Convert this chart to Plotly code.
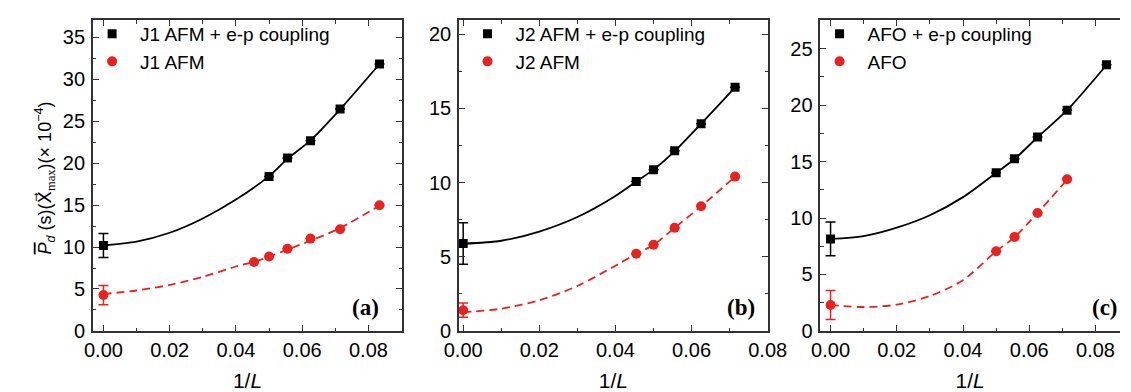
import plotly.graph_objects as go

# ---------------- data ----------------
# x values: 1/L  (L = 22, 20, 18, 16, 14, 12) plus extrapolated 1/L = 0
xa_black = [0.0, 1/20, 1/18, 1/16, 1/14, 1/12]
ya_black = [10.19, 18.41, 20.6, 22.65, 26.43, 31.8]
ea_black = [1.43, None, None, None, None, None]
xa_red = [0.0, 1/22, 1/20, 1/18, 1/16, 1/14, 1/12]
ya_red = [4.28, 8.22, 8.88, 9.8, 11.0, 12.12, 14.97]
ea_red = [1.15, None, None, None, None, None, None]

xb_black = [0.0, 1/22, 1/20, 1/18, 1/16, 1/14]
yb_black = [5.9, 10.07, 10.87, 12.14, 13.97, 16.42]
eb_black = [1.4, None, None, None, None, None]
xb_red = [0.0, 1/22, 1/20, 1/18, 1/16, 1/14]
yb_red = [1.4, 5.2, 5.81, 6.95, 8.4, 10.4]
eb_red = [0.48, None, None, None, None, None]

xc_black = [0.0, 1/20, 1/18, 1/16, 1/14, 1/12]
yc_black = [8.15, 14.0, 15.25, 17.17, 19.55, 23.57]
ec_black = [1.5, None, None, None, None, None]
xc_red = [0.0, 1/20, 1/18, 1/16, 1/14]
yc_red = [2.3, 7.06, 8.33, 10.45, 13.44]
ec_red = [1.29, None, None, None, None]

# fit curves
fa_black_x = [0.0, 0.01, 0.02, 0.03, 0.04, 1/20, 1/18, 1/16, 1/14, 1/12]
fa_black_y = [10.2, 10.65, 11.7, 13.4, 15.65, 18.45, 20.5, 22.7, 26.4, 31.8]
fa_red_x = [0.0, 0.01, 0.02, 0.03, 0.04, 1/22, 1/20, 1/18, 1/16, 1/14, 1/12]
fa_red_y = [4.4, 4.82, 5.48, 6.44, 7.68, 8.22, 8.85, 9.7, 10.75, 12.25, 14.95]

fb_black_x = [0.0, 0.01, 0.02, 0.03, 0.04, 1/22, 1/20, 1/18, 1/16, 1/14]
fb_black_y = [5.88, 6.08, 6.7, 7.68, 9.1, 10.07, 10.87, 12.12, 13.97, 16.42]
fb_red_x = [0.0, 0.01, 0.02, 0.03, 0.04, 1/22, 1/20, 1/18, 1/16, 1/14]
fb_red_y = [1.26, 1.5, 2.07, 3.03, 4.4, 5.2, 5.8, 6.95, 8.4, 10.4]

fc_black_x = [0.0, 0.01, 0.02, 0.03, 0.04, 1/20, 1/18, 1/16, 1/14, 1/12]
fc_black_y = [8.15, 8.4, 9.15, 10.25, 11.85, 14.0, 15.22, 17.15, 19.55, 23.55]
fc_red_x = [0.0, 0.01, 0.02, 0.03, 0.04, 1/20, 1/18, 1/16, 1/14]
fc_red_y = [2.3, 2.12, 2.33, 3.1, 4.5, 7.06, 8.3, 10.45, 13.4]

labels_black = ["J1 AFM + e-p coupling", "J2 AFM + e-p coupling", "AFO + e-p coupling"]
labels_red = ["J1 AFM", "J2 AFM", "AFO"]
panel_labels = ["(a)", "(b)", "(c)"]
x_ticks = [0.0, 0.02, 0.04, 0.06, 0.08]
x_tick_text = ["0.00", "0.02", "0.04", "0.06", "0.08"]

# ---------------- styling ----------------
BLACK = "#000000"
RED = "#e8231f"
AXC = "#333333"
FONT = "Liberation Sans, Arial, sans-serif"

panels = [
    dict(bx=xa_black, by=ya_black, be=ea_black, rx=xa_red, ry=ya_red, re=ea_red,
         fbx=fa_black_x, fby=fa_black_y, frx=fa_red_x, fry=fa_red_y,
         xr=[-0.0032, 0.0902], yr=[0, 37.0], dom=[72/1131, 391/1131], mirror_y=True,
         leg_x=63, lab_x=353),
    dict(bx=xb_black, by=yb_black, be=eb_black, rx=xb_red, ry=yb_red, re=eb_red,
         fbx=fb_black_x, fby=fb_black_y, frx=fb_red_x, fry=fb_red_y,
         xr=[-0.0011, 0.08005], yr=[0, 20.93], dom=[449.5/1131, 768/1131], mirror_y=True,
         leg_x=450, lab_x=740),
    dict(bx=xc_black, by=yc_black, be=ec_black, rx=xc_red, ry=yc_red, re=ec_red,
         fbx=fc_black_x, fby=fc_black_y, frx=fc_red_x, fry=fc_red_y,
         xr=[-0.0031, 0.0874], yr=[0, 27.5], dom=[822/1131, 1.0], mirror_y=False,
         leg_x=813, lab_x=1116),
]

ydom = [1 - 332.3/392, 1 - 12.7/392]

fig = go.Figure()
annotations = []
layout = dict(
    width=1131, height=392,
    margin=dict(l=0, r=0, t=0, b=0),
    paper_bgcolor="white", plot_bgcolor="white",
    font=dict(family=FONT, color="black", size=20),
    showlegend=True,
)

for i, p in enumerate(panels):
    n = "" if i == 0 else str(i + 1)
    xa, ya = "x" + n, "y" + n
    leg = "legend" + n
    # fit curves
    fig.add_trace(go.Scatter(x=p["fbx"], y=p["fby"], xaxis=xa, yaxis=ya, mode="lines",
                             line=dict(color=BLACK, width=1.8, shape="spline", smoothing=0.8),
                             showlegend=False, hoverinfo="skip"))
    fig.add_trace(go.Scatter(x=p["frx"], y=p["fry"], xaxis=xa, yaxis=ya, mode="lines",
                             line=dict(color=RED, width=1.8, shape="spline", smoothing=0.8,
                                       dash="8px,5px"),
                             showlegend=False, hoverinfo="skip"))
    # data
    fig.add_trace(go.Scatter(x=p["bx"], y=p["by"], xaxis=xa, yaxis=ya, mode="markers",
                             name=labels_black[i], legend=leg,
                             marker=dict(symbol="square", size=9, color=BLACK),
                             error_y=dict(type="data", array=p["be"], visible=True,
                                          color=BLACK, thickness=1.5, width=5)))
    fig.add_trace(go.Scatter(x=p["rx"], y=p["ry"], xaxis=xa, yaxis=ya, mode="markers",
                             name=labels_red[i], legend=leg,
                             marker=dict(symbol="circle", size=10, color=RED),
                             error_y=dict(type="data", array=p["re"], visible=True,
                                          color=RED, thickness=1.5, width=5)))

    layout["xaxis" + n] = dict(
        domain=p["dom"], anchor=ya, range=p["xr"],
        tickvals=x_ticks, ticktext=x_tick_text,
        ticks="inside", ticklen=6, tickwidth=1.3, tickcolor=AXC,
        minor=dict(dtick=0.01, ticks="inside", ticklen=3.5, tickwidth=1.3, tickcolor=AXC),
        showline=True, linecolor=AXC, linewidth=1.5, mirror="allticks",
        showgrid=False, zeroline=False,
        tickfont=dict(size=20, family=FONT, color="black"),
        title=dict(text="1/<i>L</i>", font=dict(size=21, family=FONT), standoff=14),
    )
    layout["yaxis" + n] = dict(
        domain=ydom, anchor=xa, range=p["yr"],
        dtick=5, tick0=0,
        ticks="inside", ticklen=6, tickwidth=1.3, tickcolor=AXC,
        minor=dict(dtick=2.5, ticks="inside", ticklen=3.5, tickwidth=1.3, tickcolor=AXC),
        showline=True, linecolor=AXC, linewidth=1.5,
        mirror="allticks" if p["mirror_y"] else False,
        showgrid=False, zeroline=False,
        tickfont=dict(size=20, family=FONT, color="black"),
        ticklabelstandoff=2,
    )
    layout[leg] = dict(
        x=p["leg_x"]/1131, xanchor="left", y=1 - 7/392, yanchor="top",
        bgcolor="rgba(0,0,0,0)", borderwidth=0,
        font=dict(size=19, family=FONT, color="black"),
        itemwidth=46, tracegroupgap=0,
    )
    annotations.append(dict(
        text="<b>" + panel_labels[i] + "</b>", xref="paper", yref="paper",
        x=p["lab_x"]/1131, y=1 - 308/392, xanchor="center", yanchor="middle",
        showarrow=False, font=dict(size=23, family="Liberation Serif, Times New Roman, serif",
                                   color="black")))

annotations.append(dict(
    text=("<span style='text-decoration:overline'><i>P</i></span><sub><i>d</i></sub>"
          " (s)(<span style='font-family:DejaVu Sans'>X\u20d7</span>"
          "<sub><span style='font-family:Liberation Serif'>max</span></sub>)"
          "(\u00d7 10<sup>\u22124</sup>)"),
    xref="paper", yref="paper", x=22/1131, y=1 - 175/392, textangle=-90,
    xanchor="center", yanchor="middle", showarrow=False,
    font=dict(size=18, family=FONT, color="black")))

layout["annotations"] = annotations
fig.update_layout(**layout)
fig.write_html("out.html")
